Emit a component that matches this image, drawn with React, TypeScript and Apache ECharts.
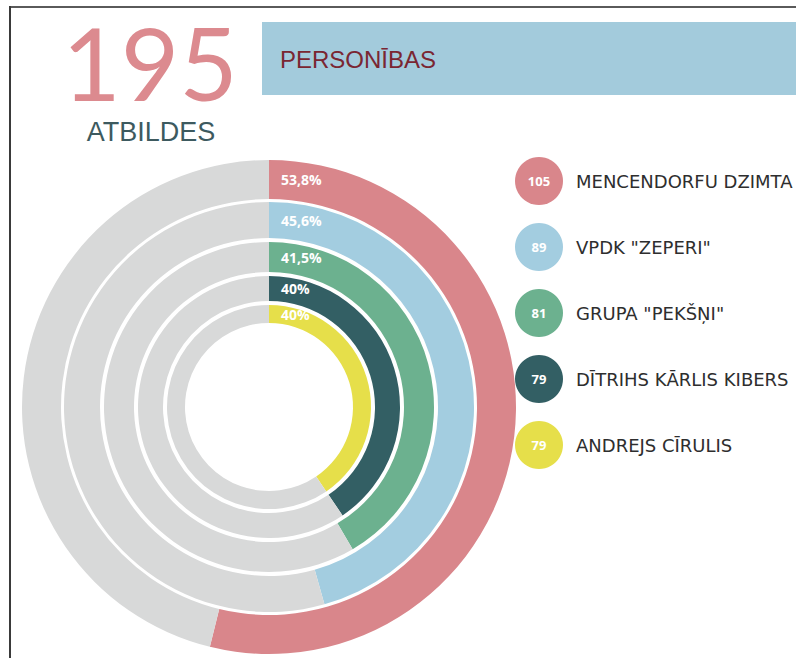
import React, { useEffect, useRef } from "react";
import * as echarts from "echarts";

const totalResponses = 195;
const headerTitle = "PERSONĪBAS";
const subTitle = "ATBILDES";
const names = [
  "MENCENDORFU DZIMTA",
  'VPDK "ZEPERI"',
  'GRUPA "PEKŠŅI"',
  "DĪTRIHS KĀRLIS KIBERS",
  "ANDREJS CĪRULIS",
];
const counts = [105, 89, 81, 79, 79];
const pctLabels = ["53,8%", "45,6%", "41,5%", "40%", "40%"];

const colors = ["#d9868b", "#a3cde0", "#6cb18f", "#335f64", "#e6df4a"];
const restColor = "#d8d9d9";
const ringRadii: [number, number][] = [
  [208, 247],
  [169, 205],
  [135, 165],
  [106, 131],
  [84, 102],
];
const CX = 269;
const CY = 407;

export default function App() {
  const ref = useRef<HTMLDivElement>(null);
  useEffect(() => {
    if (!ref.current) return;
    const chart = echarts.init(ref.current, null, { renderer: "svg" });
    const series: any[] = counts.map((v, i) => ({
      type: "pie",
      name: names[i],
      center: [CX, CY],
      radius: ringRadii[i],
      startAngle: 90,
      clockwise: true,
      silent: true,
      z: 1,
      label: { show: false },
      labelLine: { show: false },
      emphasis: { disabled: true },
      data: [
        { name: names[i], value: v, itemStyle: { color: colors[i] } },
        { name: "rest", value: totalResponses - v, itemStyle: { color: restColor } },
      ],
    }));

    const graphics: any[] = [
      // frame
      { type: "line", z: 100, shape: { x1: 10, y1: 7, x2: 796, y2: 7 }, style: { stroke: "#5a5a5a", lineWidth: 2 } },
      { type: "line", z: 100, shape: { x1: 10, y1: 6, x2: 10, y2: 658 }, style: { stroke: "#3a3a3a", lineWidth: 2 } },
      // header band
      { type: "rect", z: 100, shape: { x: 262, y: 22, width: 540, height: 73 }, style: { fill: "#a3cbdc" } },
      {
        type: "text",
        z: 100,
        x: 280,
        y: 59,
        style: {
          text: headerTitle,
          fill: "#7a2632",
          font: "24px 'Liberation Sans', Arial, sans-serif",
          verticalAlign: "middle",
          align: "left",
        },
      },
      {
        type: "text",
        z: 100,
        x: 150,
        y: 62,
        style: {
          text: String(totalResponses),
          fill: "#dc8a8f",
          font: "normal 101px Lato, sans-serif",
          lineHeight: 88,
          verticalAlign: "middle",
          align: "center",
        },
      },
      {
        type: "text",
        z: 100,
        x: 151,
        y: 132,
        style: {
          text: subTitle,
          fill: "#3d5a5f",
          font: "27px 'Liberation Sans', Arial, sans-serif",
          verticalAlign: "middle",
          align: "center",
        },
      },
    ];

    counts.forEach((v, i) => {
      const mid = (ringRadii[i][0] + ringRadii[i][1]) / 2;
      graphics.push({
        type: "text",
        z: 100,
        x: 281,
        y: CY - mid,
        style: {
          text: pctLabels[i],
          fill: "#ffffff",
          font: "bold 14px 'Open Sans', sans-serif",
          verticalAlign: "middle",
          align: "left",
        },
      });
      const ly = 181 + i * 66;
      graphics.push({
        type: "circle",
        z: 100,
        shape: { cx: 539, cy: ly, r: 24 },
        style: { fill: colors[i] },
      });
      graphics.push({
        type: "text",
        z: 101,
        x: 539,
        y: ly,
        style: {
          text: String(v),
          fill: "#ffffff",
          font: "bold 13px 'Open Sans', sans-serif",
          verticalAlign: "middle",
          align: "center",
        },
      });
      graphics.push({
        type: "text",
        z: 100,
        x: 576,
        y: ly,
        style: {
          text: names[i],
          fill: "#2e2e2e",
          font: "18px 'DejaVu Sans', sans-serif",
          verticalAlign: "middle",
          align: "left",
        },
      });
    });

    chart.setOption({
      animation: false,
      backgroundColor: "#ffffff",
      series,
      graphic: graphics,
    });
    return () => chart.dispose();
  }, []);
  return (
    <div
      ref={ref}
      style={{ position: "fixed", left: 0, top: 0, width: 796, height: 658 }}
    />
  );
}
